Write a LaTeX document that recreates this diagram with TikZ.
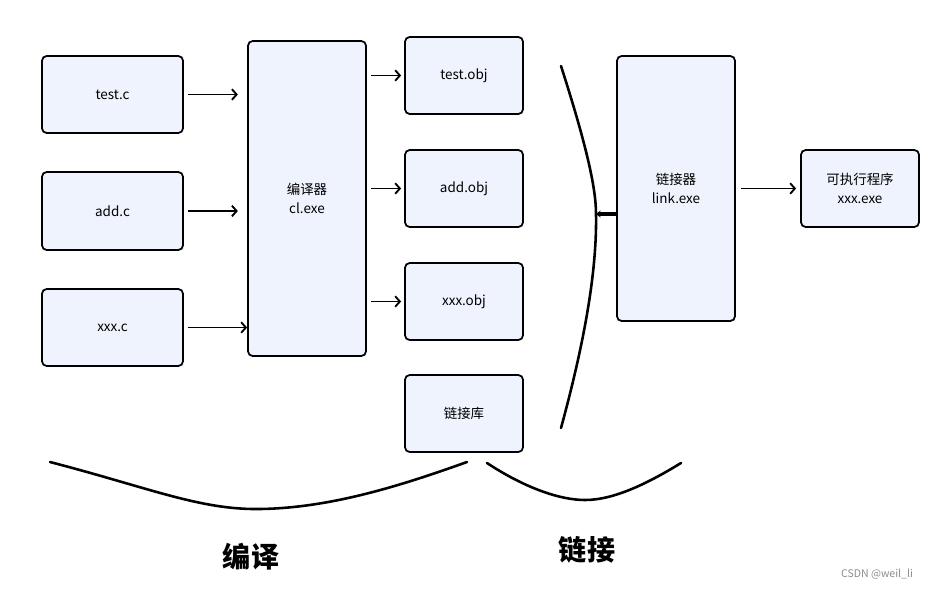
\documentclass[tikz,border=0pt]{standalone}
\usepackage{fontspec}
\setmainfont{Noto Sans CJK SC}
\usetikzlibrary{arrows.meta}

\definecolor{boxfill}{HTML}{EEF3FD}

\begin{document}
\begin{tikzpicture}[x=0.03cm,y=-0.03cm,
    blk/.style={draw, line width=1.5pt, rounded corners=4pt, fill=boxfill, align=center,
      minimum width=#1, inner sep=0pt, font=\fontsize{11.5}{16}\selectfont},
    flow/.style={-{Straight Barb[length=4pt,width=9pt]}, line width=1.6pt},
    brace/.style={line width=2.2pt, line cap=round}]
  \useasboundingbox (0,0) rectangle (934,589);

  % sources
  \node[blk=4.23cm, minimum height=2.31cm] (testc) at (112.5,94.5) {test.c};
  \node[blk=4.23cm, minimum height=2.34cm] (addc) at (112.5,211) {add.c};
  \node[blk=4.23cm, minimum height=2.31cm] (xxxc) at (112.5,327.5) {xxx.c};

  % compiler
  \node[blk=3.54cm, minimum height=9.45cm] (cl) at (307,198.5) {编译器\\cl.exe};

  % objects
  \node[blk=3.54cm, minimum height=2.31cm] (testobj) at (464,75.5) {test.obj};
  \node[blk=3.54cm, minimum height=2.31cm] (addobj) at (464,188.5) {add.obj};
  \node[blk=3.54cm, minimum height=2.31cm] (xxxobj) at (464,301.5) {xxx.obj};
  \node[blk=3.54cm, minimum height=2.31cm] (lib) at (464,413.5) {链接库};

  % linker and result
  \node[blk=3.54cm, minimum height=7.95cm] (link) at (676,188.5) {链接器\\link.exe};
  \node[blk=3.54cm, minimum height=2.31cm] (exe) at (860,188.5) {可执行程序\\xxx.exe};

  \draw[flow] (testc.east) ++(4,0) -- ++(50,0);
  \draw[flow] (addc.east) ++(4,0) -- ++(50,0);
  \draw[flow] (xxxc.east) ++(4,0) -- (cl.west |- xxxc.east);
  \foreach \o in {testobj,addobj,xxxobj}
    \draw[flow] (cl.east |- \o.west) ++(4,0) -- ([xshift=-0.09cm]\o.west);
  \draw[flow] ([xshift=0.15cm]link.east) -- ([xshift=-0.12cm]exe.west);

  % bracket in front of the linker
  \coordinate (tip) at (596,214);
  \draw[brace] (561,66) .. controls (588,150) and (596,190) .. (tip)
    .. controls (597,270) and (585,340) .. (561,428);
  \draw[-{Stealth[length=4pt,width=6pt]}, line width=3.2pt] (link.west |- tip) -- (tip);

  % lower braces
  \draw[brace] (50,462) .. controls (150,488) and (200,510) .. (260,509)
    .. controls (330,508) and (400,486) .. (467,462);
  \draw[brace] (487,463) .. controls (525,488) and (560,500) .. (585,500)
    .. controls (615,500) and (650,482) .. (681,463);

  \node[font=\fontsize{24}{28}\selectfont\bfseries] (bianyi) at (251,557) {编译};
  \node[font=\fontsize{24}{28}\selectfont\bfseries] (lianjie) at (587,550) {链接};
  \node[font=\fontsize{9}{11}\selectfont, text=black!45] (mark) at (877,574) {CSDN @weil\_li};
\end{tikzpicture}
\end{document}
